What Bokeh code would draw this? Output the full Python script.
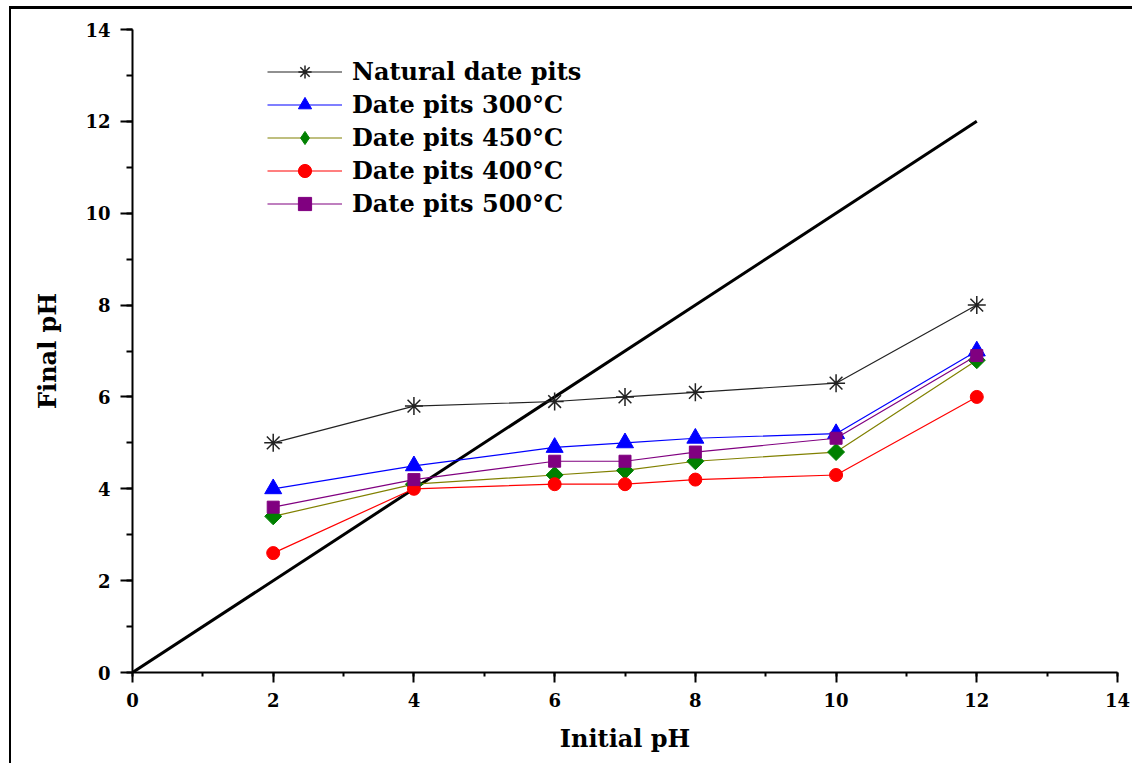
import math
from bokeh.plotting import figure
from bokeh.models import Range1d, SingleIntervalTicker, Legend, LegendItem
from bokeh.embed import file_html
from bokeh.resources import INLINE

initial_ph = [2, 4, 6, 7, 8, 10, 12]
natural = [5.0, 5.8, 5.9, 6.0, 6.1, 6.3, 8.0]
pits_300 = [4.0, 4.5, 4.9, 5.0, 5.1, 5.2, 7.0]
pits_450 = [3.4, 4.1, 4.3, 4.4, 4.6, 4.8, 6.8]
pits_400 = [2.6, 4.0, 4.1, 4.1, 4.2, 4.3, 6.0]
pits_500 = [3.6, 4.2, 4.6, 4.6, 4.8, 5.1, 6.9]
diag_x = [0, 12]
diag_y = [0, 12]

FONT = "DejaVu Serif"

p = figure(width=1123, height=757, output_backend="svg", toolbar_location=None,
           x_range=Range1d(0, 14), y_range=Range1d(0, 14),
           min_border_left=121, min_border_top=20, min_border_right=17, min_border_bottom=94)
p.margin = (6, 0, 0, 9)
p.styles = {"border-top": "3px solid black", "border-left": "2px solid black"}
p.outline_line_color = None
p.xgrid.visible = False
p.ygrid.visible = False
p.background_fill_color = "white"

for ax in (p.xaxis[0], p.yaxis[0]):
    ax.ticker = SingleIntervalTicker(interval=2, num_minor_ticks=2)
    ax.axis_line_width = 2
    ax.major_tick_line_width = 2
    ax.minor_tick_line_width = 2
    ax.major_tick_in = 0
    ax.minor_tick_in = 0
    ax.major_label_text_font = FONT
    ax.major_label_text_font_style = "bold"
    ax.major_label_text_font_size = "18px"
    ax.major_label_text_color = "black"
    ax.axis_label_text_font = FONT
    ax.axis_label_text_font_style = "bold"
    ax.axis_label_text_font_size = "24px"
    ax.axis_label_text_color = "black"

p.xaxis.major_tick_out = 10
p.xaxis.minor_tick_out = 4
p.yaxis.major_tick_out = 12
p.yaxis.minor_tick_out = 6
p.xaxis.major_label_standoff = 10
p.yaxis.major_label_standoff = 10
p.xaxis.axis_label = "Initial pH"
p.yaxis.axis_label = "Final pH"
p.xaxis.axis_label_standoff = 14
p.yaxis.axis_label_standoff = 20

p.line(diag_x, diag_y, line_color="black", line_width=3)

series = [
    ("Natural date pits", natural, "#222222", "#222222", "asterisk", 18, 0, "asterisk"),
    ("Date pits 300°C", pits_300, "#0000ff", "#0000ff", "triangle", 17, 0, "triangle"),
    ("Date pits 450°C", pits_450, "#808000", "#008000", "square", 12, math.pi / 4, "diamond"),
    ("Date pits 400°C", pits_400, "#ff0000", "#ff0000", "circle", 13, 0, "circle"),
    ("Date pits 500°C", pits_500, "#800080", "#800080", "square", 12, 0, "square"),
]

items = []
for name, vals, lc, mc, marker, size, ang, leg_marker in series:
    l = p.line(initial_ph, vals, line_color=lc, line_width=1.2)
    p.scatter(initial_ph, vals, marker=marker, size=size, angle=ang, fill_color=mc,
              line_color=mc, line_width=1.5 if marker == "asterisk" else 1)
    lg = p.scatter([float("nan")], [float("nan")], marker=leg_marker, size=size,
                   fill_color=mc, line_color=mc,
                   line_width=1.5 if marker == "asterisk" else 1)
    items.append(LegendItem(label=name, renderers=[l, lg]))

legend = Legend(items=items, location=(135, 452))
legend.border_line_color = None
legend.background_fill_alpha = 0
legend.label_text_font = FONT
legend.label_text_font_style = "bold"
legend.label_text_font_size = "24px"
legend.label_text_color = "black"
legend.glyph_width = 75
legend.glyph_height = 33
legend.label_height = 33
legend.spacing = 0
legend.padding = 0
legend.margin = 0
legend.label_standoff = 10
p.add_layout(legend)

open("out.html", "w").write(file_html(p, INLINE))
